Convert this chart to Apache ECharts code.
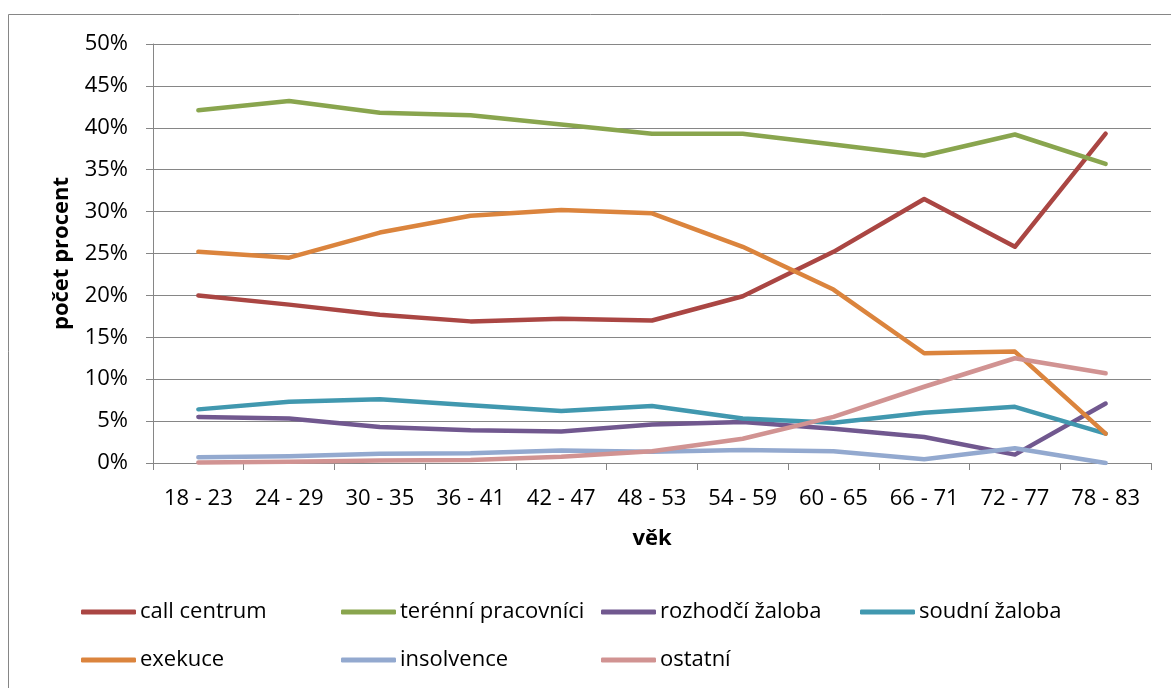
<!DOCTYPE html>
<html>
<head>
<meta charset="utf-8">
<script src="https://cdn.jsdelivr.net/npm/echarts@6/dist/echarts.min.js"></script>
<style>
html,body{margin:0;padding:0;background:#fff;}
#chart{width:1171px;height:688px;}
</style>
</head>
<body>
<div id="chart"></div>
<script>
const categories = ['18 - 23','24 - 29','30 - 35','36 - 41','42 - 47','48 - 53','54 - 59','60 - 65','66 - 71','72 - 77','78 - 83'];
const seriesNames = ['call centrum','terénní pracovníci','rozhodčí žaloba','soudní žaloba','exekuce','insolvence','ostatní'];
const callCentrum = [20.0, 18.9, 17.7, 16.9, 17.2, 17.0, 19.9, 25.2, 31.5, 25.8, 39.3];
const terenniPracovnici = [42.1, 43.2, 41.8, 41.5, 40.4, 39.3, 39.3, 38.0, 36.7, 39.2, 35.7];
const rozhodciZaloba = [5.5, 5.3, 4.3, 3.9, 3.75, 4.6, 4.9, 4.1, 3.1, 1.0, 7.1];
const soudniZaloba = [6.4, 7.3, 7.6, 6.9, 6.2, 6.8, 5.3, 4.8, 6.0, 6.7, 3.5];
const exekuce = [25.2, 24.5, 27.5, 29.5, 30.2, 29.8, 25.8, 20.7, 13.1, 13.3, 3.5];
const insolvence = [0.7, 0.8, 1.1, 1.15, 1.5, 1.35, 1.55, 1.4, 0.45, 1.75, 0.0];
const ostatni = [0.05, 0.15, 0.3, 0.35, 0.75, 1.4, 2.9, 5.5, 9.1, 12.5, 10.7];
const yTicks = [0, 5, 10, 15, 20, 25, 30, 35, 40, 45, 50];

const values = [callCentrum, terenniPracovnici, rozhodciZaloba, soudniZaloba, exekuce, insolvence, ostatni];
const colors = ['#AA4643','#89A54E','#71588F','#4198AF','#DB843D','#93A9CF','#D19392'];
const FONT = '"Open Sans", "Noto Sans", sans-serif';

const legendPos = [
  [81, 600], [341, 600], [601, 600], [860, 600],
  [81, 648], [341, 648], [601, 648]
];

const chart = echarts.init(document.getElementById('chart'), null, {renderer: 'canvas'});
const option = {
  animation: false,
  backgroundColor: '#fff',
  color: colors,
  textStyle: {fontFamily: FONT},
  grid: {left: 153, top: 44, width: 998, height: 419, containLabel: false},
  graphic: [{
    type: 'rect',
    shape: {x: 8.5, y: 14.5, width: 1300, height: 800},
    style: {fill: 'none', stroke: '#868686', lineWidth: 1},
    silent: true
  }],
  legend: seriesNames.map((n, i) => ({
    data: [n],
    left: legendPos[i][0],
    top: legendPos[i][1],
    padding: 0,
    icon: 'roundRect',
    itemWidth: 55,
    itemHeight: 5,
    selectedMode: false,
    textStyle: {fontFamily: FONT, fontSize: 22, color: '#000', lineHeight: 24, padding: [0,0,0,-1]}
  })),
  xAxis: {
    type: 'category',
    data: categories,
    boundaryGap: true,
    name: 'věk',
    nameLocation: 'middle',
    nameGap: 65,
    nameTextStyle: {fontFamily: FONT, fontSize: 22, fontWeight: 'bold', color: '#000'},
    axisLine: {lineStyle: {color: '#868686', width: 1}},
    axisTick: {show: true, length: 7, lineStyle: {color: '#868686'}},
    axisLabel: {fontFamily: FONT, fontSize: 22, color: '#000', margin: 25, interval: 0}
  },
  yAxis: {
    type: 'value',
    min: yTicks[0],
    max: yTicks[yTicks.length - 1],
    interval: yTicks[1] - yTicks[0],
    name: 'počet procent',
    nameLocation: 'middle',
    nameGap: 80,
    nameTextStyle: {fontFamily: FONT, fontSize: 22, fontWeight: 'bold', color: '#000'},
    axisLine: {show: true, lineStyle: {color: '#868686', width: 1}},
    axisTick: {show: true, length: 7, lineStyle: {color: '#868686'}},
    splitLine: {show: true, lineStyle: {color: '#868686', width: 1}},
    axisLabel: {fontFamily: FONT, fontSize: 22, color: '#000', margin: 25, formatter: '{value}%'}
  },
  series: seriesNames.map((n, i) => ({
    name: n,
    type: 'line',
    data: values[i],
    symbol: 'none',
    showSymbol: false,
    lineStyle: {width: 4.5, color: colors[i], cap: 'round', join: 'round'},
    itemStyle: {color: colors[i]}
  }))
};
chart.setOption(option);
</script>
</body>
</html>
